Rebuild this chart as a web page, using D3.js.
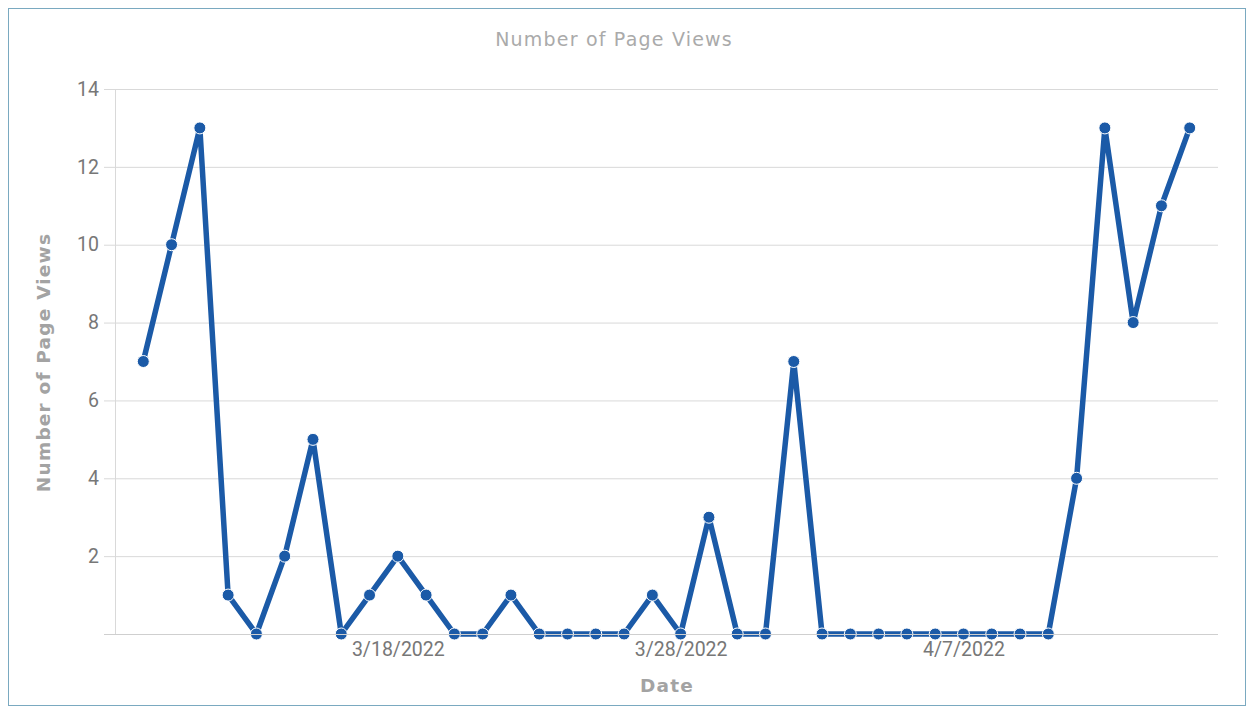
<!DOCTYPE html>
<html>
<head>
<meta charset="utf-8">
<script src="https://cdn.jsdelivr.net/npm/d3@7"></script>
<style>
  html, body { margin: 0; padding: 0; background: #fff; }
  svg { display: block; }
</style>
</head>
<body>
<div id="chart"></div>
<script>
// page views per day, 3/9/2022 .. 4/15/2022
var dates = [
  "2022-03-09", "2022-03-10", "2022-03-11", "2022-03-12", "2022-03-13",
  "2022-03-14", "2022-03-15", "2022-03-16", "2022-03-17", "2022-03-18",
  "2022-03-19", "2022-03-20", "2022-03-21", "2022-03-22", "2022-03-23",
  "2022-03-24", "2022-03-25", "2022-03-26", "2022-03-27", "2022-03-28",
  "2022-03-29", "2022-03-30", "2022-03-31", "2022-04-01", "2022-04-02",
  "2022-04-03", "2022-04-04", "2022-04-05", "2022-04-06", "2022-04-07",
  "2022-04-08", "2022-04-09", "2022-04-10", "2022-04-11", "2022-04-12",
  "2022-04-13", "2022-04-14", "2022-04-15"
];
var views = [
  7, 10, 13, 1, 0,
  2, 5, 0, 1, 2,
  1, 0, 0, 1, 0,
  0, 0, 0, 1, 0,
  3, 0, 0, 7, 0,
  0, 0, 0, 0, 0,
  0, 0, 0, 4, 13,
  8, 11, 13
];
var xTicks = ["2022-03-18", "2022-03-28", "2022-04-07"];
var yTicks = [2, 4, 6, 8, 10, 12, 14];

(function () {
  var W = 1252, H = 709,
    left = 115, right = 1218, top = 89, bottom = 634,
    parse = d3.timeParse("%Y-%m-%d"),
    fmt = d3.timeFormat("%-m/%-d/%Y"),
    lineColor = "#1b5aa7",
    data = dates.map(function (d, i) { return {date: parse(d), value: views[i]}; });

  var svg = d3.select("#chart").append("svg")
    .attr("width", W)
    .attr("height", H);

  // frame
  svg.append("rect")
    .attr("x", 8.5).attr("y", 8.5)
    .attr("width", 1237).attr("height", 697)
    .attr("fill", "#fff")
    .attr("stroke", "#7aa9c0")
    .attr("stroke-width", 1);

  var x = d3.scaleTime()
    .domain([d3.timeDay.offset(data[0].date, -1), d3.timeDay.offset(data[data.length - 1].date, 1)])
    .range([left, right]);

  var y = d3.scaleLinear()
    .domain([0, 14])
    .range([bottom, top]);

  // horizontal grid + y labels
  var yAxis = svg.append("g")
    .attr("transform", "translate(" + left + ",0)")
    .call(d3.axisLeft(y).tickValues(yTicks).tickSize(-(right - left)).tickPadding(16));
  yAxis.select(".domain").remove();
  yAxis.selectAll(".tick line")
    .attr("x1", -11)
    .attr("stroke", "#d9d9d9");
  yAxis.selectAll(".tick text")
    .attr("fill", "#777")
    .style("font-family", "Roboto, sans-serif")
    .style("font-size", "19.5px");

  // y axis vertical line
  svg.append("line")
    .attr("x1", left + 0.5).attr("x2", left + 0.5)
    .attr("y1", top).attr("y2", bottom)
    .attr("stroke", "#d9d9d9");

  // series
  var line = d3.line()
    .x(function (d) { return x(d.date); })
    .y(function (d) { return y(d.value); });

  svg.append("path")
    .datum(data)
    .attr("d", line)
    .attr("fill", "none")
    .attr("stroke", lineColor)
    .attr("stroke-width", 5.5)
    .attr("stroke-linejoin", "round");

  svg.append("g").selectAll("circle")
    .data(data)
    .enter().append("circle")
    .attr("cx", function (d) { return x(d.date); })
    .attr("cy", function (d) { return y(d.value); })
    .attr("r", 6)
    .attr("fill", lineColor)
    .attr("stroke", "#fff")
    .attr("stroke-width", 1);

  // x axis baseline drawn over the series
  var xAxis = svg.append("g")
    .attr("transform", "translate(0," + bottom + ")")
    .call(d3.axisBottom(x).tickValues(xTicks.map(parse)).tickFormat(fmt).tickSize(0).tickPadding(8));
  xAxis.select(".domain")
    .attr("d", "M" + (left - 11) + ",0.5H" + right)
    .attr("stroke", "#cfcfcf");
  xAxis.selectAll(".tick text")
    .attr("fill", "#777")
    .style("font-family", "Roboto, sans-serif")
    .style("font-size", "19.5px");

  // titles
  svg.append("text")
    .attr("x", 614).attr("y", 46)
    .attr("text-anchor", "middle")
    .attr("fill", "#aaa")
    .style("font-family", "'DejaVu Sans', sans-serif")
    .style("font-size", "19px")
    .style("letter-spacing", "1.2px")
    .text("Number of Page Views");

  svg.append("text")
    .attr("x", 667).attr("y", 692)
    .attr("text-anchor", "middle")
    .attr("fill", "#a3a3a3")
    .style("font-family", "'DejaVu Sans', sans-serif")
    .style("font-weight", "bold")
    .style("font-size", "18.5px")
    .style("letter-spacing", "1.2px")
    .text("Date");

  svg.append("text")
    .attr("transform", "translate(50," + ((top + bottom) / 2 + 1) + ") rotate(-90)")
    .attr("text-anchor", "middle")
    .attr("fill", "#a3a3a3")
    .style("font-family", "'DejaVu Sans', sans-serif")
    .style("font-weight", "bold")
    .style("font-size", "18.5px")
    .style("letter-spacing", "1.2px")
    .text("Number of Page Views");
}());
</script>
</body>
</html>
